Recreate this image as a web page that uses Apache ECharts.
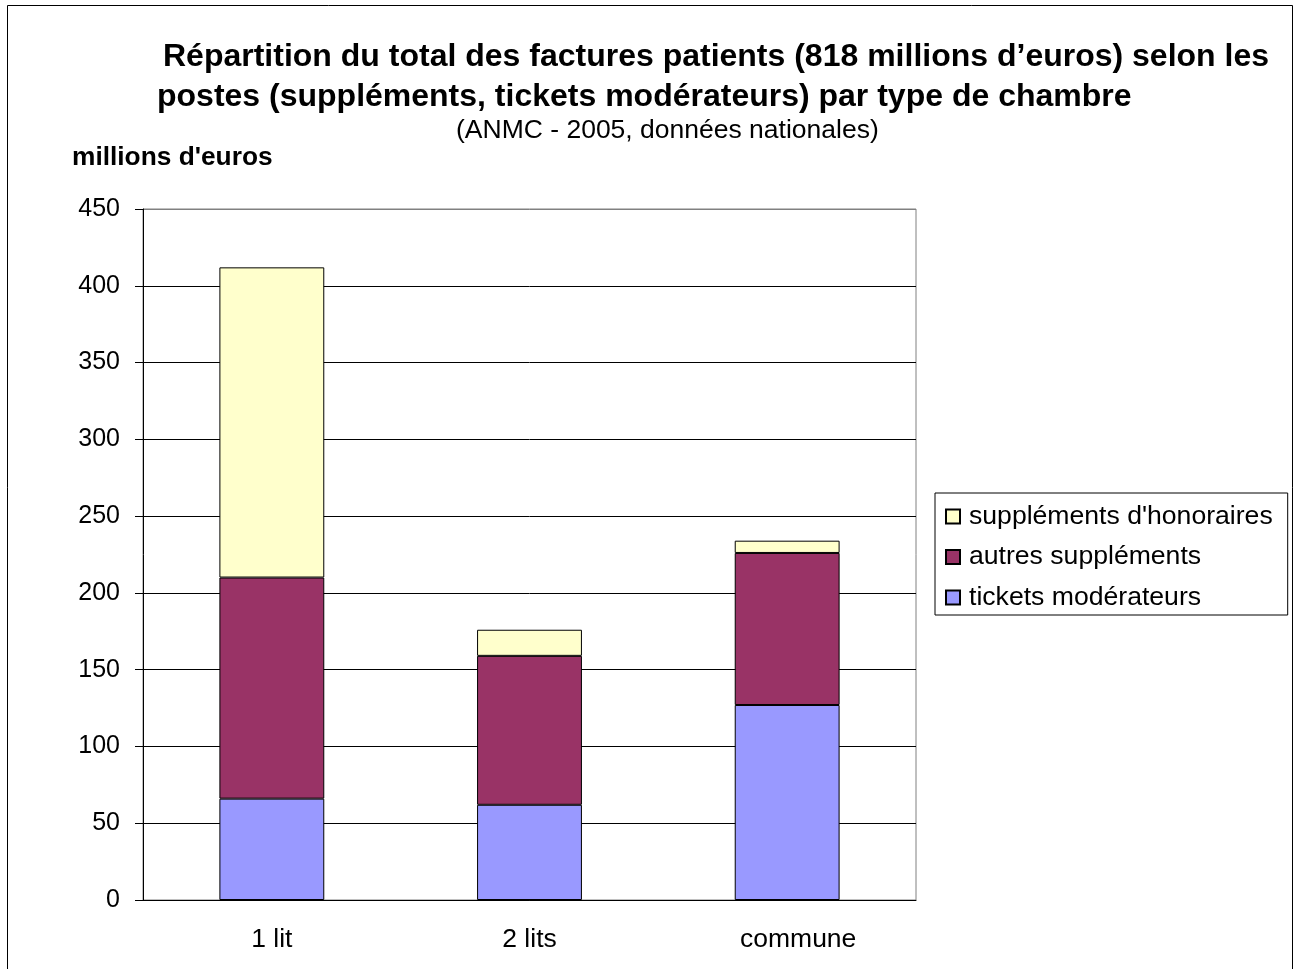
<!DOCTYPE html>
<html>
<head>
<meta charset="utf-8">
<script src="https://cdn.jsdelivr.net/npm/echarts@6/dist/echarts.min.js"></script>
<style>
  html, body { margin: 0; padding: 0; background: #fff; }
  #main { width: 1295px; height: 969px; }
</style>
</head>
<body>
<div id="main"></div>
<script>
var categories = ['1 lit', '2 lits', 'commune'];
var tickets = [66, 62, 127];
var autres = [144, 97, 99];
var honoraires = [202, 17, 8];
var legendOrder = ["suppléments d'honoraires", 'autres suppléments', 'tickets modérateurs'];

var chart = echarts.init(document.getElementById('main'));
var font = 'Liberation Sans, Arial, sans-serif';

// le libellé "commune" est décalé vers la droite dans l'original
var catData = categories.map(function (c, i) {
  return i === 2 ? { value: c, textStyle: { padding: [0, 0, 0, 22] } } : c;
});

var option = {
  backgroundColor: '#fff',
  animation: false,
  textStyle: { fontFamily: font },
  graphic: [{
    type: 'rect',
    shape: { x: 7.5, y: 5.5, width: 1285, height: 975 },
    style: { fill: 'none', stroke: '#000', lineWidth: 1 },
    silent: true
  }, {
    type: 'text',
    left: 163, top: 41,
    style: { text: 'Répartition du total des factures patients (818 millions d’euros) selon les', font: 'bold 32px ' + font, fill: '#000' }
  }, {
    type: 'text',
    left: 157, top: 81,
    style: { text: 'postes (suppléments, tickets modérateurs) par type de chambre', font: 'bold 32px ' + font, fill: '#000' }
  }, {
    type: 'text',
    left: 456, top: 117,
    style: { text: '(ANMC - 2005, données nationales)', font: '26.5px ' + font, fill: '#000' }
  }, {
    type: 'text',
    left: 72, top: 145,
    style: { text: "millions d'euros", font: 'bold 26.3px ' + font, fill: '#000' }
  }, {
    type: 'rect',
    shape: { x: 143, y: 209, width: 773, height: 691 },
    style: { fill: 'none', stroke: '#808080', lineWidth: 1 },
    silent: true, z: -1
  }],
  legend: {
    orient: 'vertical',
    left: 935,
    top: 493,
    data: legendOrder,
    icon: 'rect',
    itemWidth: 14,
    itemHeight: 14,
    itemGap: 13.5,
    padding: [10, 15, 4, 10],
    borderColor: '#000',
    borderWidth: 1,
    textStyle: { fontSize: 26.6, color: '#000', fontFamily: font, lineHeight: 26, padding: [0, 0, 0, 4] }
  },
  grid: { left: 143, right: 379, top: 209, bottom: 69 },
  xAxis: {
    type: 'category',
    data: catData,
    axisLine: { lineStyle: { color: '#000' } },
    axisTick: { length: 8, lineStyle: { color: '#000' } },
    axisLabel: { fontSize: 26.5, color: '#000', margin: 26, fontFamily: font }
  },
  yAxis: {
    type: 'value',
    min: 0,
    max: 450,
    interval: 50,
    axisLine: { show: true, lineStyle: { color: '#000' } },
    axisTick: { show: true, length: 8, lineStyle: { color: '#000' } },
    axisLabel: { fontSize: 25, color: '#000', margin: 23, fontFamily: font },
    splitLine: { lineStyle: { color: ['#000', '#000', '#000', '#000', '#000', '#000', '#000', '#000', '#000', '#808080'] } }
  },
  series: [{
    name: 'tickets modérateurs',
    type: 'bar',
    stack: 'total',
    barWidth: '40.7%',
    data: tickets,
    itemStyle: { color: '#9999ff', borderColor: '#000', borderWidth: 1 }
  }, {
    name: 'autres suppléments',
    type: 'bar',
    stack: 'total',
    data: autres,
    itemStyle: { color: '#993366', borderColor: '#000', borderWidth: 1 }
  }, {
    name: "suppléments d'honoraires",
    type: 'bar',
    stack: 'total',
    data: honoraires,
    itemStyle: { color: '#ffffcc', borderColor: '#000', borderWidth: 1 }
  }]
};

chart.setOption(option);
</script>
</body>
</html>
